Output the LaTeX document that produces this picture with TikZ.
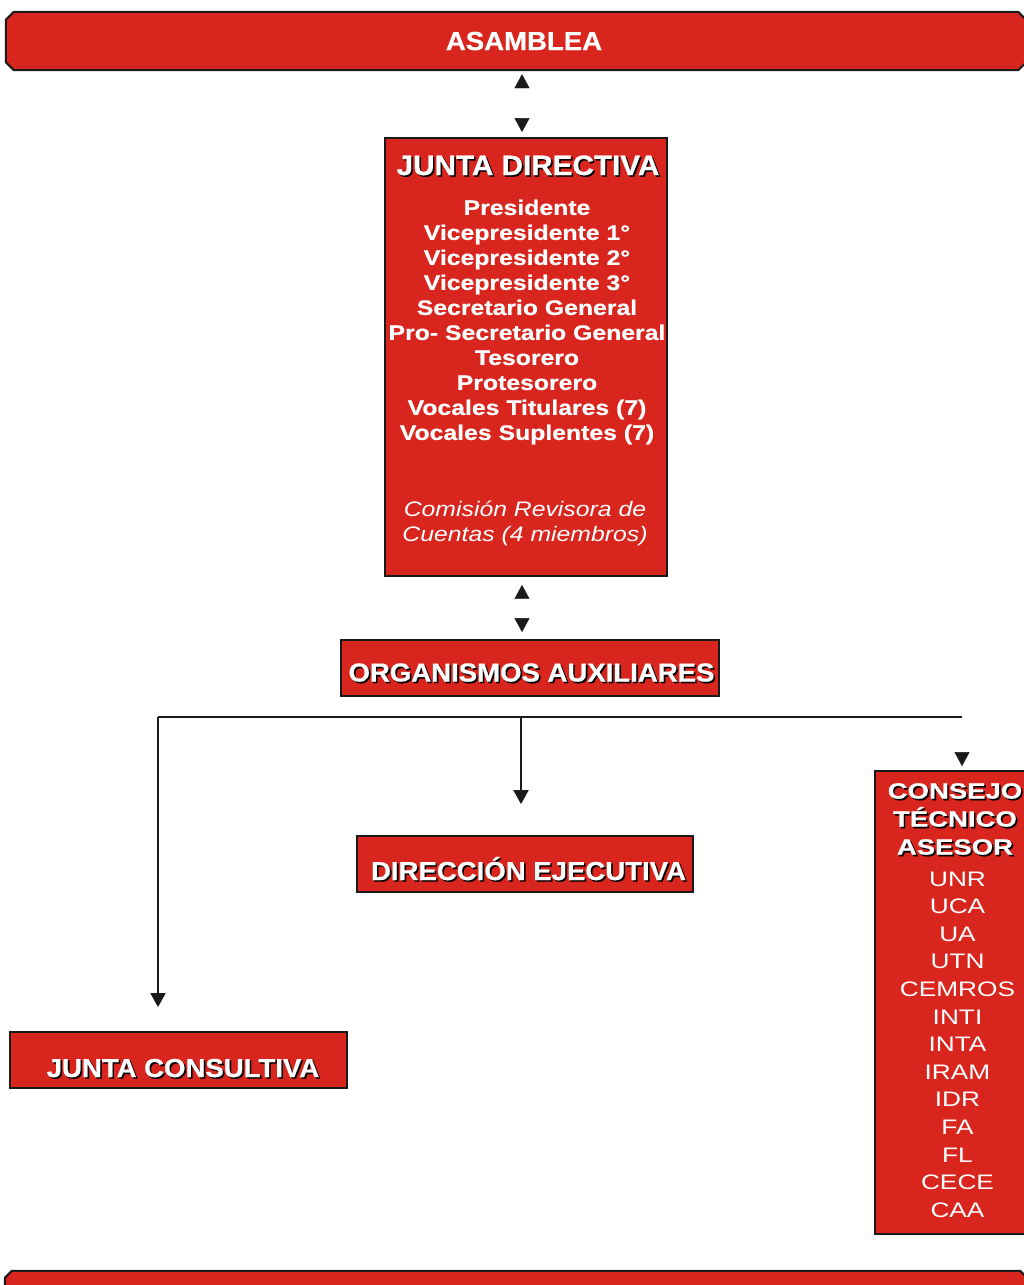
\documentclass[tikz,border=0pt]{standalone}
\usepackage{fontspec}
\setmainfont{Liberation Sans}
\newfontfamily\tfont[FakeStretch=1.06,BoldFeatures={FakeBold=0.8}]{Liberation Sans}
\newfontfamily\bfont[FakeStretch=1.18,BoldFeatures={FakeBold=0.6}]{Liberation Sans}
\newfontfamily\lfont[FakeStretch=1.25,BoldFeatures={FakeBold=0.8}]{Liberation Sans}
\usetikzlibrary{arrows.meta}
\definecolor{orgred}{HTML}{D8251D}
\definecolor{edgec}{HTML}{1A1A1A}
\newcommand\shd[1]{\leavevmode\rlap{\kern1.6pt\raisebox{-1.6pt}{\color{black}#1}}#1}
\begin{document}
\begin{tikzpicture}[x=1pt,y=-1pt,
  box/.style={draw=edgec,line width=1.8pt,fill=orgred,rectangle,inner sep=0pt},
  frame/.style={rectangle,inner sep=0pt},
  chpath/.style={draw=edgec,line width=2pt,fill=orgred,line join=round},
  ttl/.style={text=white,inner sep=0pt,anchor=base,font=\tfont\bfseries\fontsize{26}{30}\selectfont},
  body/.style={text=white,inner sep=0pt,anchor=north,align=center},
  conn/.style={draw=edgec,line width=1.8pt},
  >={Triangle[width=15pt,length=14pt]},
  tipsonly/.style={draw=edgec,dash pattern=on 0pt off 2000pt,line cap=butt}
]
\useasboundingbox (0,0) rectangle (1024,1285);
\fill[white] (0,0) rectangle (1024,1285);

% chamfered bars
\node[frame,minimum width=1020pt,minimum height=58pt] (asamblea) at (516,41) {};
\path[chpath] ([yshift=-8pt]asamblea.north west) -- ([xshift=8pt]asamblea.north west)
  -- ([xshift=-8pt]asamblea.north east) -- ([yshift=-8pt]asamblea.north east)
  -- ([yshift=8pt]asamblea.south east) -- ([xshift=-8pt]asamblea.south east)
  -- ([xshift=8pt]asamblea.south west) -- ([yshift=8pt]asamblea.south west) -- cycle;
\node[frame,minimum width=1022pt,minimum height=60pt] (bottom) at (516,1301) {};
\path[chpath] ([yshift=-7pt]bottom.north west) -- ([xshift=7pt]bottom.north west)
  -- ([xshift=-7pt]bottom.north east) -- ([yshift=-7pt]bottom.north east)
  -- (bottom.south east) -- (bottom.south west) -- cycle;

% boxes
\node[box,minimum width=282pt,minimum height=438pt] (jd) at (526,357) {};
\node[box,minimum width=378pt,minimum height=56pt] (oa) at (530,668) {};
\node[box,minimum width=336pt,minimum height=56pt] (de) at (525,864) {};
\node[box,minimum width=337pt,minimum height=56pt] (jc) at (178.5,1060) {};
\node[box,minimum width=155pt,minimum height=463pt] (ct) at (952.5,1002.5) {};

% texts
\node[ttl] (asambleatxt) at (524,50) {ASAMBLEA};
\node[ttl,font=\tfont\bfseries\fontsize{28}{32}\selectfont] (jdtxt) at (528,175) {\shd{JUNTA DIRECTIVA}};
\node[body,font=\bfont\bfseries\fontsize{21}{25}\selectfont] (jdlist) at (527,199.5)
  {Presidente\\Vicepresidente 1°\\Vicepresidente 2°\\Vicepresidente 3°\\Secretario General\\Pro- Secretario General\\Tesorero\\Protesorero\\Vocales Titulares (7)\\Vocales Suplentes (7)};
\node[body,font=\bfont\itshape\fontsize{21}{25}\selectfont] (jdcom) at (525,500.5)
  {Comisión Revisora de\\Cuentas (4 miembros)};
\node[ttl] (oatxt) at (531.5,681.5) {\shd{ORGANISMOS AUXILIARES}};
\node[ttl] (detxt) at (528.5,880) {\shd{DIRECCIÓN EJECUTIVA}};
\node[ttl] (jctxt) at (183,1077) {\shd{JUNTA CONSULTIVA}};
\node[body,font=\lfont\bfseries\fontsize{22}{28}\selectfont] (cttxt) at (955,783)
  {\shd{CONSEJO}\\\shd{TÉCNICO}\\\shd{ASESOR}};
\node[body,font=\lfont\fontsize{21}{27.6}\selectfont] (ctlist) at (957.5,871.5)
  {UNR\\UCA\\UA\\UTN\\CEMROS\\INTI\\INTA\\IRAM\\IDR\\FA\\FL\\CECE\\CAA};

% connectors
\coordinate (axis) at (522,0);
\draw[tipsonly,<->,shorten <=4pt,shorten >=5pt] (asamblea.south -| axis) -- (jd.north -| axis);
\draw[tipsonly,<->,shorten <=8pt,shorten >=7pt] (jd.south -| axis) -- (oa.north -| axis);

\coordinate (hl) at (158,717);
\coordinate (hm) at (521,717);
\coordinate (hr) at (962,717);
\draw[conn] (hl) -- (hr);
\draw[conn,->,shorten >=31pt] (hm) -- (de.north -| hm);
\draw[conn,->,shorten >=24pt] (hl) -- (jc.north -| hl);
\draw[tipsonly,->,shorten >=4pt] (hr) -- (ct.north -| hr);
\end{tikzpicture}
\end{document}
